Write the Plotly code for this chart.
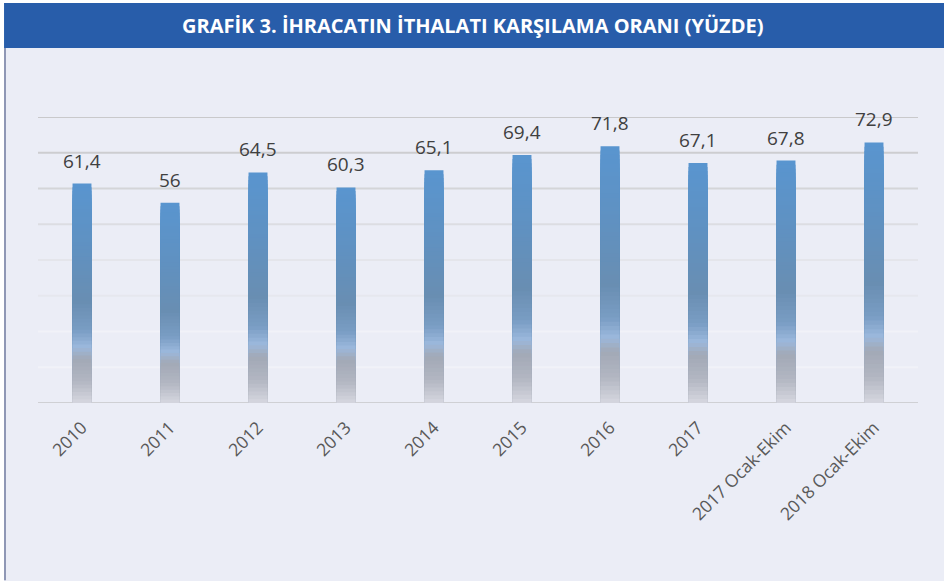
import plotly.graph_objects as go

categories = ["2010", "2011", "2012", "2013", "2014", "2015", "2016", "2017",
              "2017 Ocak-Ekim", "2018 Ocak-Ekim"]
values = [61.4, 56, 64.5, 60.3, 65.1, 69.4, 71.8, 67.1, 67.8, 72.9]
grid_values = [0, 10, 20, 30, 40, 50, 60, 70, 80]
grid_colors = ["#CFD0D4", "#F1F2F8", "#F1F2F8", "#E6E7EE", "#E4E5EB",
               "#DCDDE2", "#D4D5D8", "#CDCDD0", "#C9C9CB"]
title_text = "GRAFİK 3. İHRACATIN İTHALATI KARŞILAMA ORANI (YÜZDE)"

# vertical gradient stops (fraction of bar height from bottom, colour)
stops = [(0.0, (214, 215, 223)), (0.10, (178, 182, 194)), (0.20, (162, 169, 182)),
         (0.255, (155, 184, 220)), (0.33, (122, 157, 196)), (0.46, (105, 142, 178)),
         (0.70, (96, 145, 193)), (1.0, (89, 149, 207))]

def color_at(t):
    for (t0, c0), (t1, c1) in zip(stops[:-1], stops[1:]):
        if t0 <= t <= t1:
            u = (t - t0) / (t1 - t0) if t1 > t0 else 0
            c = [round(a + (b - a) * u) for a, b in zip(c0, c1)]
            return "rgb({},{},{})".format(*c)
    return "rgb({},{},{})".format(*stops[-1][1])

fig = go.Figure()
N = 60
for i in range(N, 0, -1):
    f = i / N
    fig.add_trace(go.Bar(
        x=categories, y=[v * f for v in values],
        marker=dict(color=color_at((i - 0.5) / N), line=dict(width=0)),
        hoverinfo="skip", showlegend=False))

labels = [f"{v:g}".replace(".", ",") for v in values]
for idx, (v, t) in enumerate(zip(values, labels)):
    fig.add_annotation(x=idx, y=v, text=t, showarrow=False, yanchor="bottom",
                       yshift=8, font=dict(family="Open Sans", size=19, color="#404040"))

shapes = []
for g, col in zip(grid_values, grid_colors):
    shapes.append(dict(type="line", xref="paper", yref="y", x0=0, x1=1, y0=g, y1=g,
                       line=dict(color=col, width=2), layer="below"))
# white page edges
shapes.append(dict(type="rect", xref="paper", yref="paper", x0=-0.05, x1=1.04,
                   y0=1.3986, y1=1.45, fillcolor="white", line=dict(width=0), layer="above"))
shapes.append(dict(type="rect", xref="paper", yref="paper", x0=-0.05, x1=-0.0386,
                   y0=-0.7, y1=1.45, fillcolor="white", line=dict(width=0), layer="above"))
# title bar
shapes.append(dict(type="rect", xref="paper", yref="paper", x0=-0.0386, x1=1.04,
                   y0=1.241, y1=1.3986, fillcolor="#285DAA", line=dict(width=0), layer="above"))
# left border
shapes.append(dict(type="line", xref="paper", yref="paper", x0=-0.0375, x1=-0.0375,
                   y0=-0.62, y1=1.241, line=dict(color="#8F97B5", width=2)))

fig.add_annotation(xref="paper", yref="paper", x=0.4943, y=1.3196, text="<b>" + title_text + "</b>",
                   showarrow=False, xanchor="center", yanchor="middle",
                   font=dict(family="Open Sans", size=20, color="white"))

fig.update_layout(
    width=944, height=581,
    margin=dict(l=38, r=26, t=117, b=178, autoexpand=False),
    paper_bgcolor="#EBEDF6", plot_bgcolor="#EBEDF6",
    barmode="overlay", bargap=0.785,
    shapes=shapes,
    xaxis=dict(type="category", range=[-0.5, len(categories) - 0.5], tickangle=-45,
               showgrid=False, showline=False, ticks="", automargin=False,
               ticklabelstandoff=10,
               tickfont=dict(family="Open Sans", size=17.5, color="#595959")),
    yaxis=dict(range=[0, 80], showgrid=False, zeroline=False, showticklabels=False,
               showline=False, automargin=False),
)

fig.write_html("out.html", config={"displayModeBar": False},
               post_script="document.body.style.margin='0';document.body.style.overflow='hidden';")
